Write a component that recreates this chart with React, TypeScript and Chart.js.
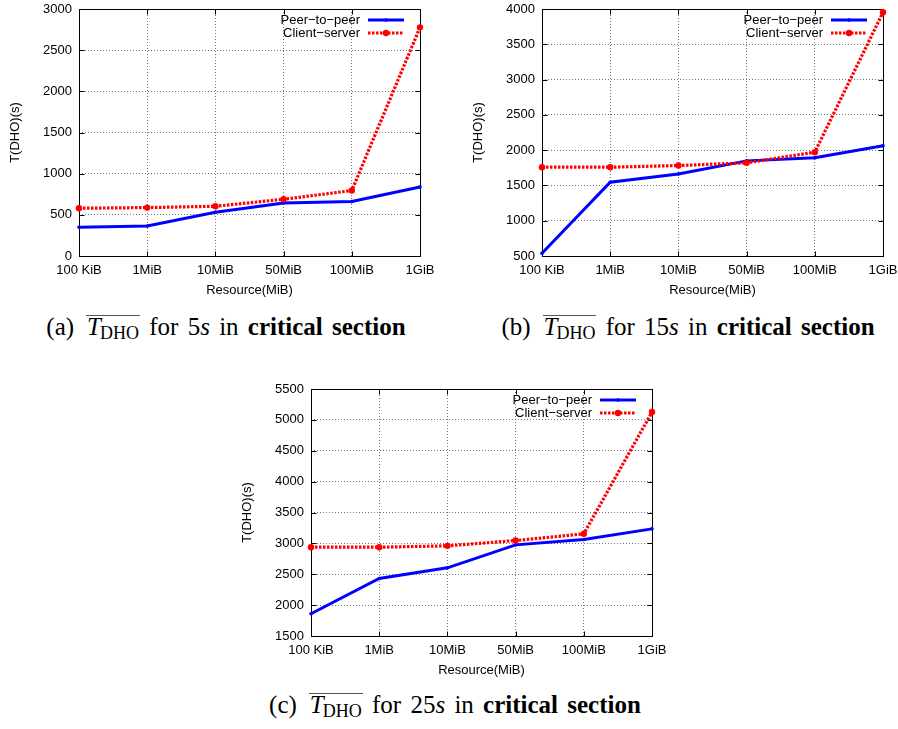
import React, { useEffect, useRef } from 'react';
import { Chart, registerables } from 'chart.js';

Chart.register(...registerables);

// ---------- data ----------
const categories = ['100 KiB', '1MiB', '10MiB', '50MiB', '100MiB', '1GiB'];
const seriesNames = ['Peer\u2212to\u2212peer', 'Client\u2212server'];

const p2pA = [350, 365, 531, 645, 661, 839];
const csA = [580, 588, 604, 689, 795, 2777];
const yRangeA = [0, 3000];

const p2pB = [538, 1545, 1663, 1848, 1891, 2061];
const csB = [1758, 1758, 1782, 1820, 1971, 3953];
const yRangeB = [500, 4000];

const p2pC = [1861, 2432, 2604, 2976, 3062, 3235];
const csC = [2938, 2938, 2960, 3046, 3154, 5127];
const yRangeC = [1500, 5500];

const yStep = 500;
const xTitle = 'Resource(MiB)';
const yTitle = 'T(DHO)(s)';

const FONT = "'Liberation Sans', Arial, Helvetica, sans-serif";
const SERIF = "'Liberation Serif', 'Times New Roman', Times, serif";

const framePlugin = {
  id: 'frame',
  beforeDatasetsDraw(chart: any) {
    const { ctx, chartArea: a, scales } = chart;
    const L = Math.round(a.left) + 0.5;
    const T = Math.round(a.top) + 0.5;
    const R = Math.round(a.right) + 0.5;
    const B = Math.round(a.bottom) + 0.5;
    ctx.save();
    ctx.strokeStyle = '#000';
    ctx.lineWidth = 1;
    ctx.setLineDash([]);
    ctx.strokeRect(L, T, R - L, B - T);
    const tl = 5;
    ctx.beginPath();
    const xs = scales.x;
    for (let i = 0; i < xs.ticks.length; i++) {
      const px = Math.round(xs.getPixelForTick(i)) + 0.5;
      ctx.moveTo(px, B);
      ctx.lineTo(px, B - tl);
      ctx.moveTo(px, T);
      ctx.lineTo(px, T + tl);
    }
    const ys = scales.y;
    for (let i = 0; i < ys.ticks.length; i++) {
      const py = Math.round(ys.getPixelForTick(i)) + 0.5;
      ctx.moveTo(L, py);
      ctx.lineTo(L + tl, py);
      ctx.moveTo(R, py);
      ctx.lineTo(R - tl, py);
    }
    ctx.stroke();
    ctx.restore();
  },
};

const legendPlugin = {
  id: 'insideLegend',
  afterDatasetsDraw(chart: any) {
    const { ctx, chartArea: a } = chart;
    chart.data.datasets.forEach((ds: any, i: number) => {
      const y = a.top + 11 + 13 * i;
      ctx.save();
      ctx.font = `13px ${FONT}`;
      ctx.fillStyle = '#000';
      ctx.textAlign = 'right';
      ctx.textBaseline = 'middle';
      ctx.fillText(ds.label, a.right - 60, y);
      ctx.strokeStyle = ds.borderColor;
      ctx.lineWidth = ds.borderWidth;
      ctx.setLineDash(ds.borderDash || []);
      ctx.beginPath();
      ctx.moveTo(a.right - 52, y);
      ctx.lineTo(a.right - 16, y);
      ctx.stroke();
      ctx.setLineDash([]);
      ctx.fillStyle = ds.pointBackgroundColor;
      ctx.beginPath();
      ctx.arc(a.right - 34, y, ds.pointRadius, 0, Math.PI * 2);
      ctx.fill();
      ctx.restore();
    });
  },
};

type PanelProps = {
  p2p: number[];
  cs: number[];
  yRange: number[];
  left: number;
  top: number;
  width: number;
  height: number;
  padRight: number;
  padTop: number;
};

function Panel({ p2p, cs, yRange, left, top, width, height, padRight, padTop }: PanelProps) {
  const ref = useRef<HTMLCanvasElement | null>(null);
  useEffect(() => {
    if (!ref.current) return;
    const tickFont = { family: FONT, size: 13 };
    const chart = new Chart(ref.current, {
      type: 'line',
      data: {
        labels: categories,
        datasets: [
          {
            label: seriesNames[0],
            data: p2p,
            borderColor: '#0000ff',
            backgroundColor: '#0000ff',
            pointBackgroundColor: '#0000ff',
            pointBorderColor: '#0000ff',
            borderWidth: 3,
            pointRadius: 1.8,
            pointBorderWidth: 0,
            tension: 0,
            fill: false,
            order: 2,
          },
          {
            label: seriesNames[1],
            data: cs,
            borderColor: '#ff0000',
            backgroundColor: '#ff0000',
            pointBackgroundColor: '#ff0000',
            pointBorderColor: '#ff0000',
            borderWidth: 3.2,
            borderDash: [2.5, 1.5],
            pointRadius: 3.2,
            pointBorderWidth: 0,
            tension: 0,
            fill: false,
            order: 1,
          },
        ],
      },
      options: {
        responsive: false,
        animation: false,
        events: [],
        layout: { padding: { left: 0, right: padRight, top: padTop, bottom: 0 } },
        plugins: {
          legend: { display: false },
          tooltip: { enabled: false },
        },
        scales: {
          x: {
            type: 'category',
            offset: false,
            grid: { color: '#777', lineWidth: 1, drawTicks: false },
            border: { display: false, dash: [1, 2] },
            ticks: { color: '#000', font: tickFont, padding: 7, maxRotation: 0, autoSkip: false },
            title: { display: true, text: xTitle, color: '#000', font: tickFont, padding: { top: 0, bottom: 2 } },
            afterFit(scale: any) {
              scale.height = 44;
              scale.paddingLeft = 0;
              scale.paddingRight = 0;
            },
          },
          y: {
            type: 'linear',
            min: yRange[0],
            max: yRange[1],
            grid: { color: '#777', lineWidth: 1, drawTicks: false },
            border: { display: false, dash: [1, 2] },
            ticks: {
              color: '#000',
              font: tickFont,
              padding: 7,
              stepSize: yStep,
              callback: (v: any) => String(v),
            },
            title: { display: true, text: yTitle, color: '#000', font: tickFont, padding: { top: 8, bottom: 0 } },
            afterFit(scale: any) {
              scale.width = 79;
              scale.paddingTop = 0;
              scale.paddingBottom = 0;
            },
          },
        },
      } as any,
      plugins: [framePlugin, legendPlugin],
    });
    return () => chart.destroy();
  }, []);
  return (
    <canvas
      ref={ref}
      width={width}
      height={height}
      style={{ position: 'absolute', left, top, width, height, display: 'block' }}
    />
  );
}

function Caption({ letter, secs, center, top }: { letter: string; secs: string; center: number; top: number }) {
  return (
    <div
      style={{
        position: 'absolute',
        left: center - 250,
        top,
        width: 500,
        textAlign: 'center',
        fontFamily: SERIF,
        fontSize: 25,
        color: '#000',
        whiteSpace: 'nowrap',
        lineHeight: '30px',
        wordSpacing: 3,
      }}
    >
      ({letter})
      <span style={{ display: 'inline-block', width: 12 }} />
      <span
        style={{
          display: 'inline-block',
          borderTop: '1.5px solid #555',
          lineHeight: '22px',
          paddingLeft: 1,
          paddingRight: 1,
        }}
      >
        <i>T</i>
        <span style={{ fontSize: 18, position: 'relative', top: 4, marginLeft: -1 }}>DHO</span>
      </span>{' '}
      for {secs}
      <i>s</i> in <b>critical section</b>
    </div>
  );
}

export default function App() {
  return (
    <div style={{ position: 'absolute', left: 0, top: 0, width: 898, height: 729, background: '#fff', overflow: 'hidden' }}>
      <Panel p2p={p2pA} cs={csA} yRange={yRangeA} left={0} top={0} width={440} height={300} padRight={20} padTop={9} />
      <Panel p2p={p2pB} cs={csB} yRange={yRangeB} left={463} top={0} width={435} height={300} padRight={15} padTop={9} />
      <Panel p2p={p2pC} cs={csC} yRange={yRangeC} left={232} top={380} width={440} height={300} padRight={20} padTop={9} />
      <Caption letter="a" secs="5" center={226} top={312} />
      <Caption letter="b" secs="15" center={688} top={312} />
      <Caption letter="c" secs="25" center={455} top={690} />
    </div>
  );
}
